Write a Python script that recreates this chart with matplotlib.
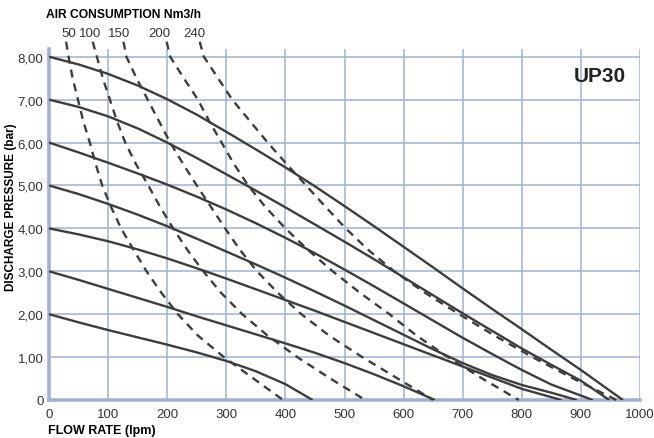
import matplotlib
matplotlib.use("Agg")
import matplotlib.pyplot as plt

plt.rcParams['font.family'] = ['Liberation Sans', 'DejaVu Sans']

# pump curves: flow (lpm) vs discharge pressure (bar), one per inlet air pressure
flow_a = [0, 50, 100, 150, 200, 250, 300, 350, 400, 450, 500, 550, 600, 650, 700, 750, 800, 850, 900]
curve_x = {
    8: flow_a[:19] + [971],
    7: flow_a[:19] + [948],
    6: flow_a[:18] + [920],
    5: flow_a[:18] + [893],
    4: flow_a[:17] + [867],
    3: flow_a[:13] + [653],
    2: flow_a[:9] + [446],
}
curve_y = {
    8: [8.0, 7.82, 7.6, 7.33, 7.01, 6.65, 6.25, 5.84, 5.42, 4.98, 4.52, 4.05, 3.57,
        3.09, 2.6, 2.12, 1.65, 1.17, 0.7, 0],
    7: [7.0, 6.83, 6.61, 6.33, 6.0, 5.64, 5.26, 4.88, 4.49, 4.09, 3.69, 3.28, 2.86,
        2.44, 2.02, 1.61, 1.2, 0.82, 0.45, 0],
    6: [6.0, 5.77, 5.53, 5.28, 5.02, 4.74, 4.44, 4.12, 3.78, 3.42, 3.04, 2.65, 2.25,
        1.85, 1.45, 1.07, 0.7, 0.36, 0],
    5: [5.0, 4.8, 4.57, 4.32, 4.05, 3.76, 3.46, 3.16, 2.85, 2.53, 2.2, 1.86, 1.52,
        1.18, 0.86, 0.58, 0.35, 0.17, 0],
    4: [4.0, 3.86, 3.7, 3.51, 3.3, 3.07, 2.83, 2.58, 2.33, 2.08, 1.82, 1.56, 1.3,
        1.04, 0.78, 0.52, 0.26, 0],
    3: [3.0, 2.8, 2.59, 2.38, 2.17, 1.95, 1.74, 1.53, 1.32, 1.1, 0.86, 0.6, 0.32, 0],
    2: [2.0, 1.81, 1.63, 1.46, 1.29, 1.11, 0.91, 0.67, 0.37, 0],
}

# air consumption lines (Nm3/h): flow read at each pressure level
air_levels = ["50", "100", "150", "200", "240"]
air_p = [8.35, 8.0, 7.5, 7.0, 6.5, 6.0, 5.5, 5.0, 4.5, 4.0, 3.5, 3.0, 2.5, 2.0, 1.5, 1.0, 0.5, 0.0]
air_flow = {
    "50":  [29, 33, 40, 49, 58, 69, 79, 90, 105, 122, 143, 165, 190, 218, 252, 296, 346, 396],
    "100": [74, 81, 91, 103, 115, 129, 147, 168, 188, 210, 234, 261, 291, 327, 370, 420, 476, 535],
    "150": [126, 131, 148, 167, 186, 205, 227, 250, 274, 298, 323, 352, 387, 427, 474, 530, 590, 650],
    "200": [199, 205, 228, 252, 271, 292, 313, 337, 366, 400, 438, 480, 526, 576, 622, 675, 733, 795],
    "240": [255, 262, 286, 310, 340, 370, 402, 435, 468, 502, 540, 584, 636, 694, 754, 818, 887, 960],
}

x_ticks = [0, 100, 200, 300, 400, 500, 600, 700, 800, 900, 1000]
y_ticks = [0, 1, 2, 3, 4, 5, 6, 7, 8]
y_labels = ["0", "1,00", "2,00", "3,00", "4,00", "5,00", "6,00", "7,00", "8,00"]

line_col = "#3d3d3d"
grid_col = "#a2b2cd"

fig = plt.figure(figsize=(6.54, 4.39), dpi=100)
ax = fig.add_axes([49 / 654, 38 / 439, 591 / 654, 351 / 439])
ax.set_xlim(0, 1000)
ax.set_ylim(0, 8.18)

for k in curve_x:
    ax.plot(curve_x[k], curve_y[k], color=line_col, lw=1.7, solid_capstyle='butt',
            solid_joinstyle='round', zorder=3)

for lev in air_levels:
    ax.plot(air_flow[lev], air_p, color=line_col, lw=1.7, dashes=(3.4, 2.6),
            clip_on=False, zorder=3)

ax.set_xticks(x_ticks)
ax.set_yticks(y_ticks)
ax.set_yticklabels(y_labels)
ax.grid(True, color=grid_col, lw=1.1, zorder=0)
ax.tick_params(length=0, labelsize=9.5, colors="#333333")
ax.tick_params(axis='y', pad=4)
ax.tick_params(axis='x', pad=6)
for s in ["top", "right"]:
    ax.spines[s].set_visible(False)
for s in ["left", "bottom"]:
    ax.spines[s].set_color(grid_col)
    ax.spines[s].set_linewidth(2.6)

fig.text(11 / 654, 1 - 207 / 439, "DISCHARGE PRESSURE (bar)", fontsize=8.5,
         fontweight='bold', rotation=90, va='center', ha='center')
fig.text(48 / 654, 1 - 431 / 439, "FLOW RATE (lpm)", fontsize=9,
         fontweight='bold', va='center', ha='left')
fig.text(46 / 654, 1 - 15 / 439, "AIR CONSUMPTION Nm3/h", fontsize=8.7,
         fontweight='bold', va='center', ha='left')
label_px = [69, 90, 119, 159, 194]
for lev, px in zip(air_levels, label_px):
    fig.text(px / 654, 1 - 34 / 439, lev, fontsize=9.5, ha='center', va='center',
             color="#333333")
fig.text(626 / 654, 1 - 77 / 439, "UP30", fontsize=15, fontweight='bold',
         ha='right', va='center', color="#222222")

fig.savefig("out.png", dpi=100)
